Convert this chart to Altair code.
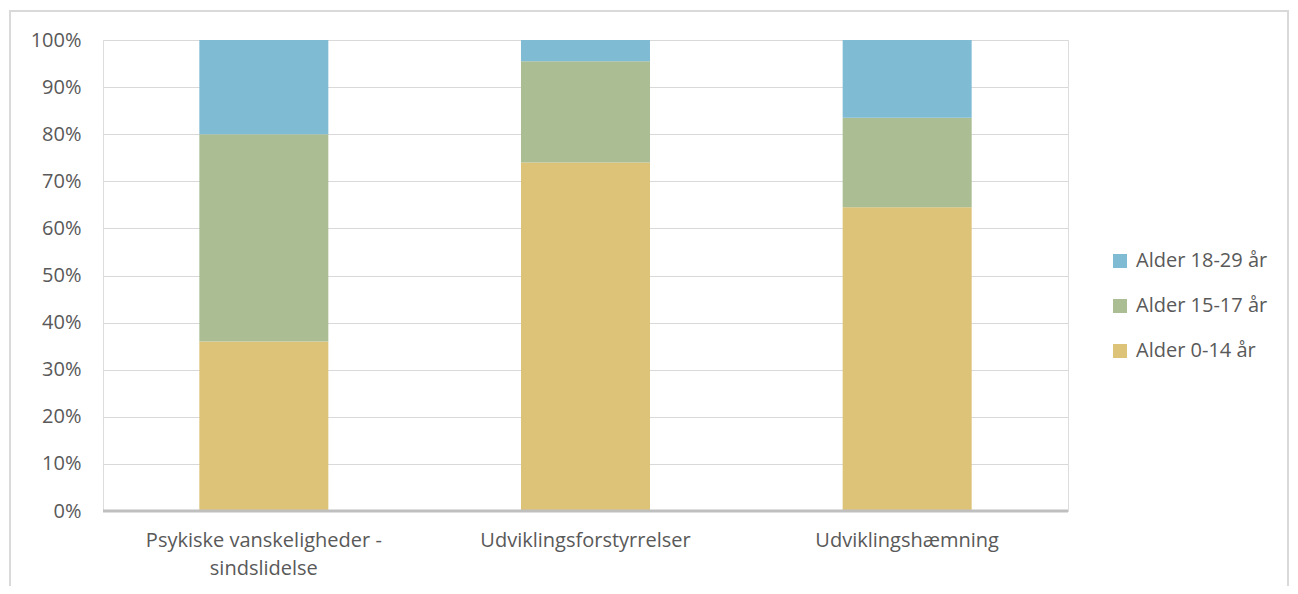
import altair as alt
import pandas as pd

categories = ["Psykiske vanskeligheder - sindslidelse", "Udviklingsforstyrrelser", "Udviklingshæmning"]
groups = ["Alder 0-14 år", "Alder 15-17 år", "Alder 18-29 år"]
age_0_14 = [36.0, 74.0, 64.5]
age_15_17 = [44.0, 21.5, 19.0]
age_18_29 = [20.0, 4.5, 16.5]

legend_order = ["Alder 18-29 år", "Alder 15-17 år", "Alder 0-14 år"]
colors = ["#80bbd4", "#abbd93", "#dcc378"]

rows = []
for i, c in enumerate(categories):
    for rank, (g, vals) in enumerate(zip(groups, [age_0_14, age_15_17, age_18_29])):
        rows.append({"cat": c, "group": g, "value": vals[i] / 100.0, "rank": rank})
df = pd.DataFrame(rows)

FONT = "Open Sans"
TXT = "#595959"
FS = 20

bars = alt.Chart(df).mark_bar(size=129).encode(
    x=alt.X("cat:N", sort=categories, title=None,
            axis=alt.Axis(labelAngle=0, labelFontSize=FS, labelColor=TXT, labelFont=FONT,
                          labelPadding=19, labelLineHeight=28, labelLimit=0, ticks=False, domain=False,
                          labelExpr="datum.label == 'Psykiske vanskeligheder - sindslidelse' ? ['Psykiske vanskeligheder -', 'sindslidelse'] : datum.label")),
    y=alt.Y("value:Q", stack="normalize", title=None,
            scale=alt.Scale(domain=[0, 1]),
            axis=alt.Axis(format=".0%", values=[i / 10 for i in range(11)], labelFontSize=FS,
                          labelColor=TXT, labelFont=FONT, labelPadding=22, ticks=False, domain=False,
                          gridColor="#d9d9d9", gridWidth=1.2)),
    color=alt.Color("group:N", scale=alt.Scale(domain=legend_order, range=colors),
                    legend=alt.Legend(title=None, orient="none", legendX=1007, legendY=211,
                                      labelFontSize=FS, labelColor=TXT, labelFont=FONT, labelLimit=0,
                                      symbolType="square", symbolSize=196, symbolStrokeWidth=0,
                                      rowPadding=25, labelOffset=6)),
    order=alt.Order("rank:Q", sort="ascending"),
)

baseline = alt.Chart(pd.DataFrame({"y": [0.0]})).mark_rule(color="#bfbfbf", strokeWidth=3).encode(
    y=alt.Y("y:Q")
)

frame = alt.Chart(pd.DataFrame({"a": [0]})).mark_rect(
    fill="transparent", stroke="#d9d9d9", strokeWidth=2, clip=False
).encode(
    x=alt.value(-93), x2=alt.value(1185), y=alt.value(-29), y2=alt.value(600)
)

chart = alt.layer(frame, bars, baseline).properties(
    width=965, height=471,
    autosize=alt.AutoSizeParams(type="none"),
    padding={"left": 95, "top": 32, "right": 222, "bottom": 75},
).configure_view(stroke=None).configure(background="white")

chart.save("out.html", embed_options={"renderer": "svg", "actions": False})
